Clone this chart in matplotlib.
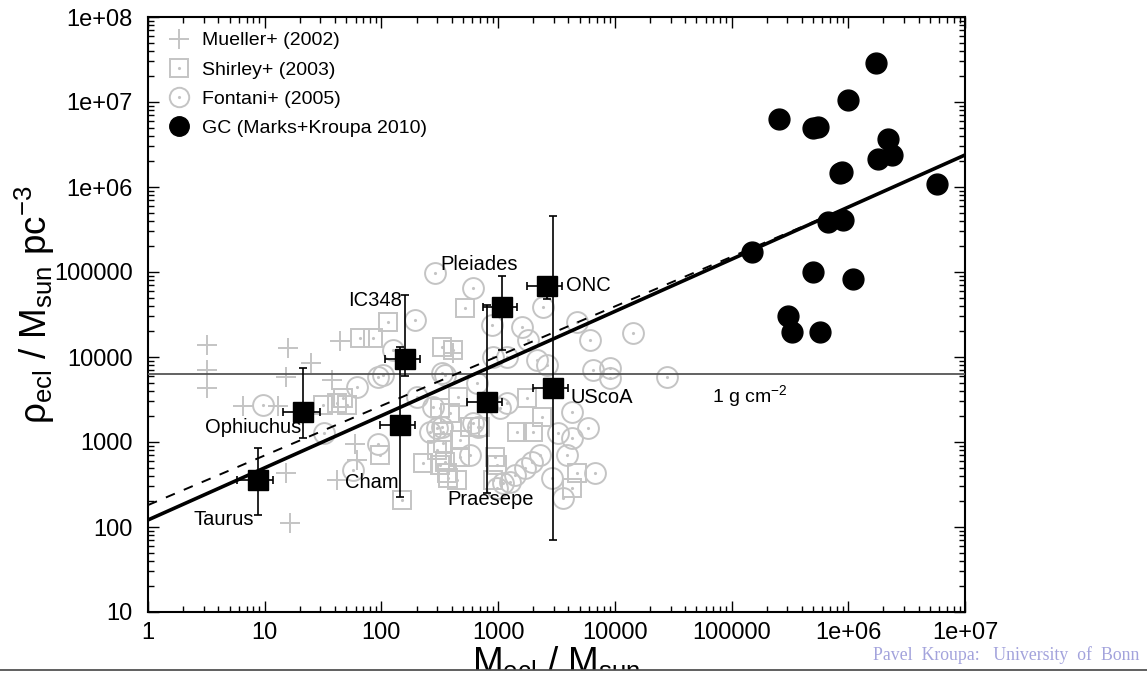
import matplotlib.pyplot as plt
import numpy as np
from matplotlib.lines import Line2D
from matplotlib.patches import Rectangle
from matplotlib.legend_handler import HandlerTuple
from matplotlib.ticker import LogLocator, NullFormatter

plt.rcParams['font.family'] = 'Liberation Sans'
plt.rcParams['mathtext.fontset'] = 'custom'
plt.rcParams['mathtext.rm'] = 'Liberation Sans'
plt.rcParams['mathtext.it'] = 'Liberation Sans:italic'

# Mueller+ (2002)
mueller_m = [3.2, 3.2, 3.2, 6.5, 13, 15.8, 15.2, 25, 38, 44, 59, 62, 15.2, 42, 16.5, 411]
mueller_rho = [13800, 7030, 4310, 2650, 2650, 12800, 5820, 8490, 5360, 15400, 940, 610, 430, 360, 110, 11100]

# Shirley+ (2003)
shirley_m = [114, 520, 66, 85, 330, 411, 31.6, 42, 51, 47, 318, 387, 337, 472, 97, 227, 318, 365,
             445, 150, 574, 351, 372, 337, 299, 979, 453, 2377, 1452, 1991, 4742, 4297, 1770,
             904, 940, 472, 697]
shirley_rho = [25800, 37700, 16700, 16700, 13100, 12100, 2720, 2880, 2720, 3300, 2510, 2190, 970, 1060,
               700, 570, 540, 430, 360, 210, 1500, 580, 380, 1310, 810, 540, 3380, 1970, 1310, 1310,
               430, 290, 3300, 360, 670, 670, 1500]

# Fontani+ (2005)
fontani_m = [9.7, 32, 57, 94, 62, 94, 194, 288, 609, 887, 126, 103, 351, 659, 904, 2427, 1603, 1803,
             4742, 6126, 14300, 2153, 2624, 6500, 9090, 9090, 28000, 1191, 4297, 5891, 4297, 3258,
             3891, 2285, 1950, 1702, 1396, 1265, 2897, 6761, 3597, 1191, 261, 299, 574, 979, 1102,
             673, 1038, 330, 330, 202, 277, 609]
fontani_rho = [2720, 1290, 470, 960, 4440, 5820, 27200, 97300, 64700, 23800, 12100, 6140, 6140, 4940,
               10000, 38700, 22500, 15800, 25800, 15800, 19200, 9220, 8050, 7030, 7430, 5660, 5820,
               10000, 2250, 1460, 1110, 1280, 700, 700, 580, 490, 410, 340, 380, 430, 220, 2880, 1310,
               1460, 700, 290, 330, 1500, 2510, 1500, 6490, 3380, 2580, 1670]

# GC (Marks+Kroupa 2010)
gc_m = [1.73e6, 9.96e5, 2.55e5, 4.99e5, 5.51e5, 2.19e6, 2.37e6, 1.80e6, 8.51e5, 8.85e5, 5.77e6,
        6.71e5, 9.02e5, 1.50e5, 4.99e5, 1.10e6, 3.05e5, 3.30e5, 5.73e5]
gc_rho = [2.88e7, 1.06e7, 6.31e6, 4.94e6, 5.08e6, 3.67e6, 2.38e6, 2.13e6, 1.46e6, 1.50e6, 1.08e6,
          3.87e5, 4.09e5, 1.72e5, 1.0e5, 8.28e4, 3.03e4, 1.97e4, 1.97e4]

# named clusters: mass, density, mass range, density range
clusters = ['Taurus', 'Ophiuchus', 'IC348', 'Cham', 'Pleiades', 'Praesepe', 'ONC', 'UScoA']
cl_m = [8.77, 21.3, 159, 144, 1080, 803, 2624, 2953]
cl_m_lo = [5.79, 14.3, 107, 97.3, 743, 541, 1770, 1991]
cl_m_hi = [11.8, 29.8, 214, 194, 1452, 1080, 3530, 3972]
cl_rho = [357, 2254, 9470, 1585, 38700, 2956, 68500, 4315]
cl_rho_lo = [138, 1124, 6000, 225, 12100, 251, 48100, 70.3]
cl_rho_hi = [849, 7430, 53600, 13100, 89700, 40900, 87300, 456000]
label_pos = [(2.43, 121), (3.08, 1462), (51.7, 45600), (48.8, 330), (318, 1.21e5), (365, 208),
             (3819, 68500), (4130, 3300)]

# fits and the 1 g cm^-2 line
fit_m = [1, 1e7]
fit_rho = [121, 2.38e6]
dash_m = [1, 1e6]
dash_rho = [181, 5.8e5]
surface_rho = 6300

gray = '#c4c4c4'

fig, ax = plt.subplots(figsize=(11.47, 6.74), dpi=100)
fig.subplots_adjust(left=148 / 1147, right=965 / 1147, bottom=1 - 612 / 674, top=1 - 17 / 674)
ax.set_xscale('log')
ax.set_yscale('log')
ax.set_xlim(1, 1e7)
ax.set_ylim(10, 1e8)

ax.plot(mueller_m, mueller_rho, '+', color=gray, ms=15, mew=1.4, zorder=2)
ax.plot(shirley_m, shirley_rho, 's', mfc='none', mec=gray, ms=13, mew=1.4, zorder=2)
ax.plot(shirley_m, shirley_rho, '.', color=gray, ms=2.5, zorder=2)
ax.plot(fontani_m, fontani_rho, 'o', mfc='none', mec=gray, ms=15, mew=1.4, zorder=2)
ax.plot(fontani_m, fontani_rho, '.', color=gray, ms=2.5, zorder=2)

ax.axhline(surface_rho, color='#555555', lw=1.3, zorder=3)
ax.plot(fit_m, fit_rho, color='black', lw=2.6, zorder=4)
ax.plot(dash_m, dash_rho, color='black', lw=1.4, ls=(0, (5, 5)), zorder=4)

ax.plot(gc_m, gc_rho, 'o', color='black', ms=15, zorder=5)

cl_m = np.array(cl_m)
cl_rho = np.array(cl_rho)
xerr = [cl_m - np.array(cl_m_lo), np.array(cl_m_hi) - cl_m]
yerr = [cl_rho - np.array(cl_rho_lo), np.array(cl_rho_hi) - cl_rho]
ax.errorbar(cl_m, cl_rho, xerr=xerr, yerr=yerr, fmt='s', color='black', ms=15, elinewidth=1.2,
            capsize=3, capthick=1.2, zorder=6)

for name, (lx, ly) in zip(clusters, label_pos):
    ax.text(lx, ly, name, fontsize=14.5, ha='left', va='center', zorder=7)
ax.text(1.44e5, 3475, r'1 g cm$^{-2}$', fontsize=14, ha='center', va='center')

ax.set_xticks([10 ** i for i in range(8)])
ax.set_xticklabels(['1', '10', '100', '1000', '10000', '100000', '1e+06', '1e+07'])
ax.set_yticks([10 ** i for i in range(1, 9)])
ax.set_yticklabels(['10', '100', '1000', '10000', '100000', '1e+06', '1e+07', '1e+08'])
ax.xaxis.set_minor_locator(LogLocator(base=10, subs=np.arange(2, 10), numticks=20))
ax.yaxis.set_minor_locator(LogLocator(base=10, subs=np.arange(2, 10), numticks=20))
ax.xaxis.set_minor_formatter(NullFormatter())
ax.yaxis.set_minor_formatter(NullFormatter())
ax.tick_params(which='both', direction='in', top=True, right=True, labelsize=17, width=1.0)
ax.tick_params(which='major', length=8)
ax.tick_params(axis='x', which='major', pad=7)
ax.tick_params(axis='y', which='major', pad=11)
ax.tick_params(which='minor', length=4)
for s in ax.spines.values():
    s.set_linewidth(1.5)

ax.set_xlabel(r'M$_{\rm ecl}$ / M$_{\rm sun}$', fontsize=26.5, va='top')
ax.xaxis.set_label_coords(0.5, -0.054)
ax.set_ylabel(r'ρ$_{\rm ecl}$ / M$_{\rm sun}$ pc$^{-3}$', fontsize=26.5, va='center')
ax.yaxis.set_label_coords(-0.138, 0.516)

h_mueller = Line2D([], [], ls='none', marker='+', color=gray, ms=14, mew=1.4)
h_shirley = (Line2D([], [], ls='none', marker='s', mfc='none', mec=gray, ms=13, mew=1.4),
             Line2D([], [], ls='none', marker='.', color=gray, ms=2.5))
h_fontani = (Line2D([], [], ls='none', marker='o', mfc='none', mec=gray, ms=14, mew=1.4),
             Line2D([], [], ls='none', marker='.', color=gray, ms=2.5))
h_gc = Line2D([], [], ls='none', marker='o', color='black', ms=14)
ax.legend([h_mueller, h_shirley, h_fontani, h_gc],
          ['Mueller+ (2002)', 'Shirley+ (2003)', 'Fontani+ (2005)', 'GC (Marks+Kroupa 2010)'],
          handler_map={tuple: HandlerTuple(ndivide=1, pad=0)}, loc='upper left',
          frameon=False, fontsize=14, handlelength=1.0, handletextpad=0.69, labelspacing=0.59,
          borderaxespad=0.7, bbox_to_anchor=(0.0, 1.011))

# slide footer
cut = 1 - 670 / 674
fig.add_artist(Rectangle((0, 0), 1, cut, transform=fig.transFigure, color='white', zorder=10))
fig.add_artist(Line2D([0, 1], [cut, cut], transform=fig.transFigure, color='#444444', lw=1.2, zorder=11))
fig.text(0.993, 1 - 655 / 674, 'Pavel  Kroupa:   University  of  Bonn', family='Liberation Serif',
         fontsize=12.8, color='#a3a3dc', ha='right', va='center', zorder=12)

fig.savefig('out.png', dpi=100)
